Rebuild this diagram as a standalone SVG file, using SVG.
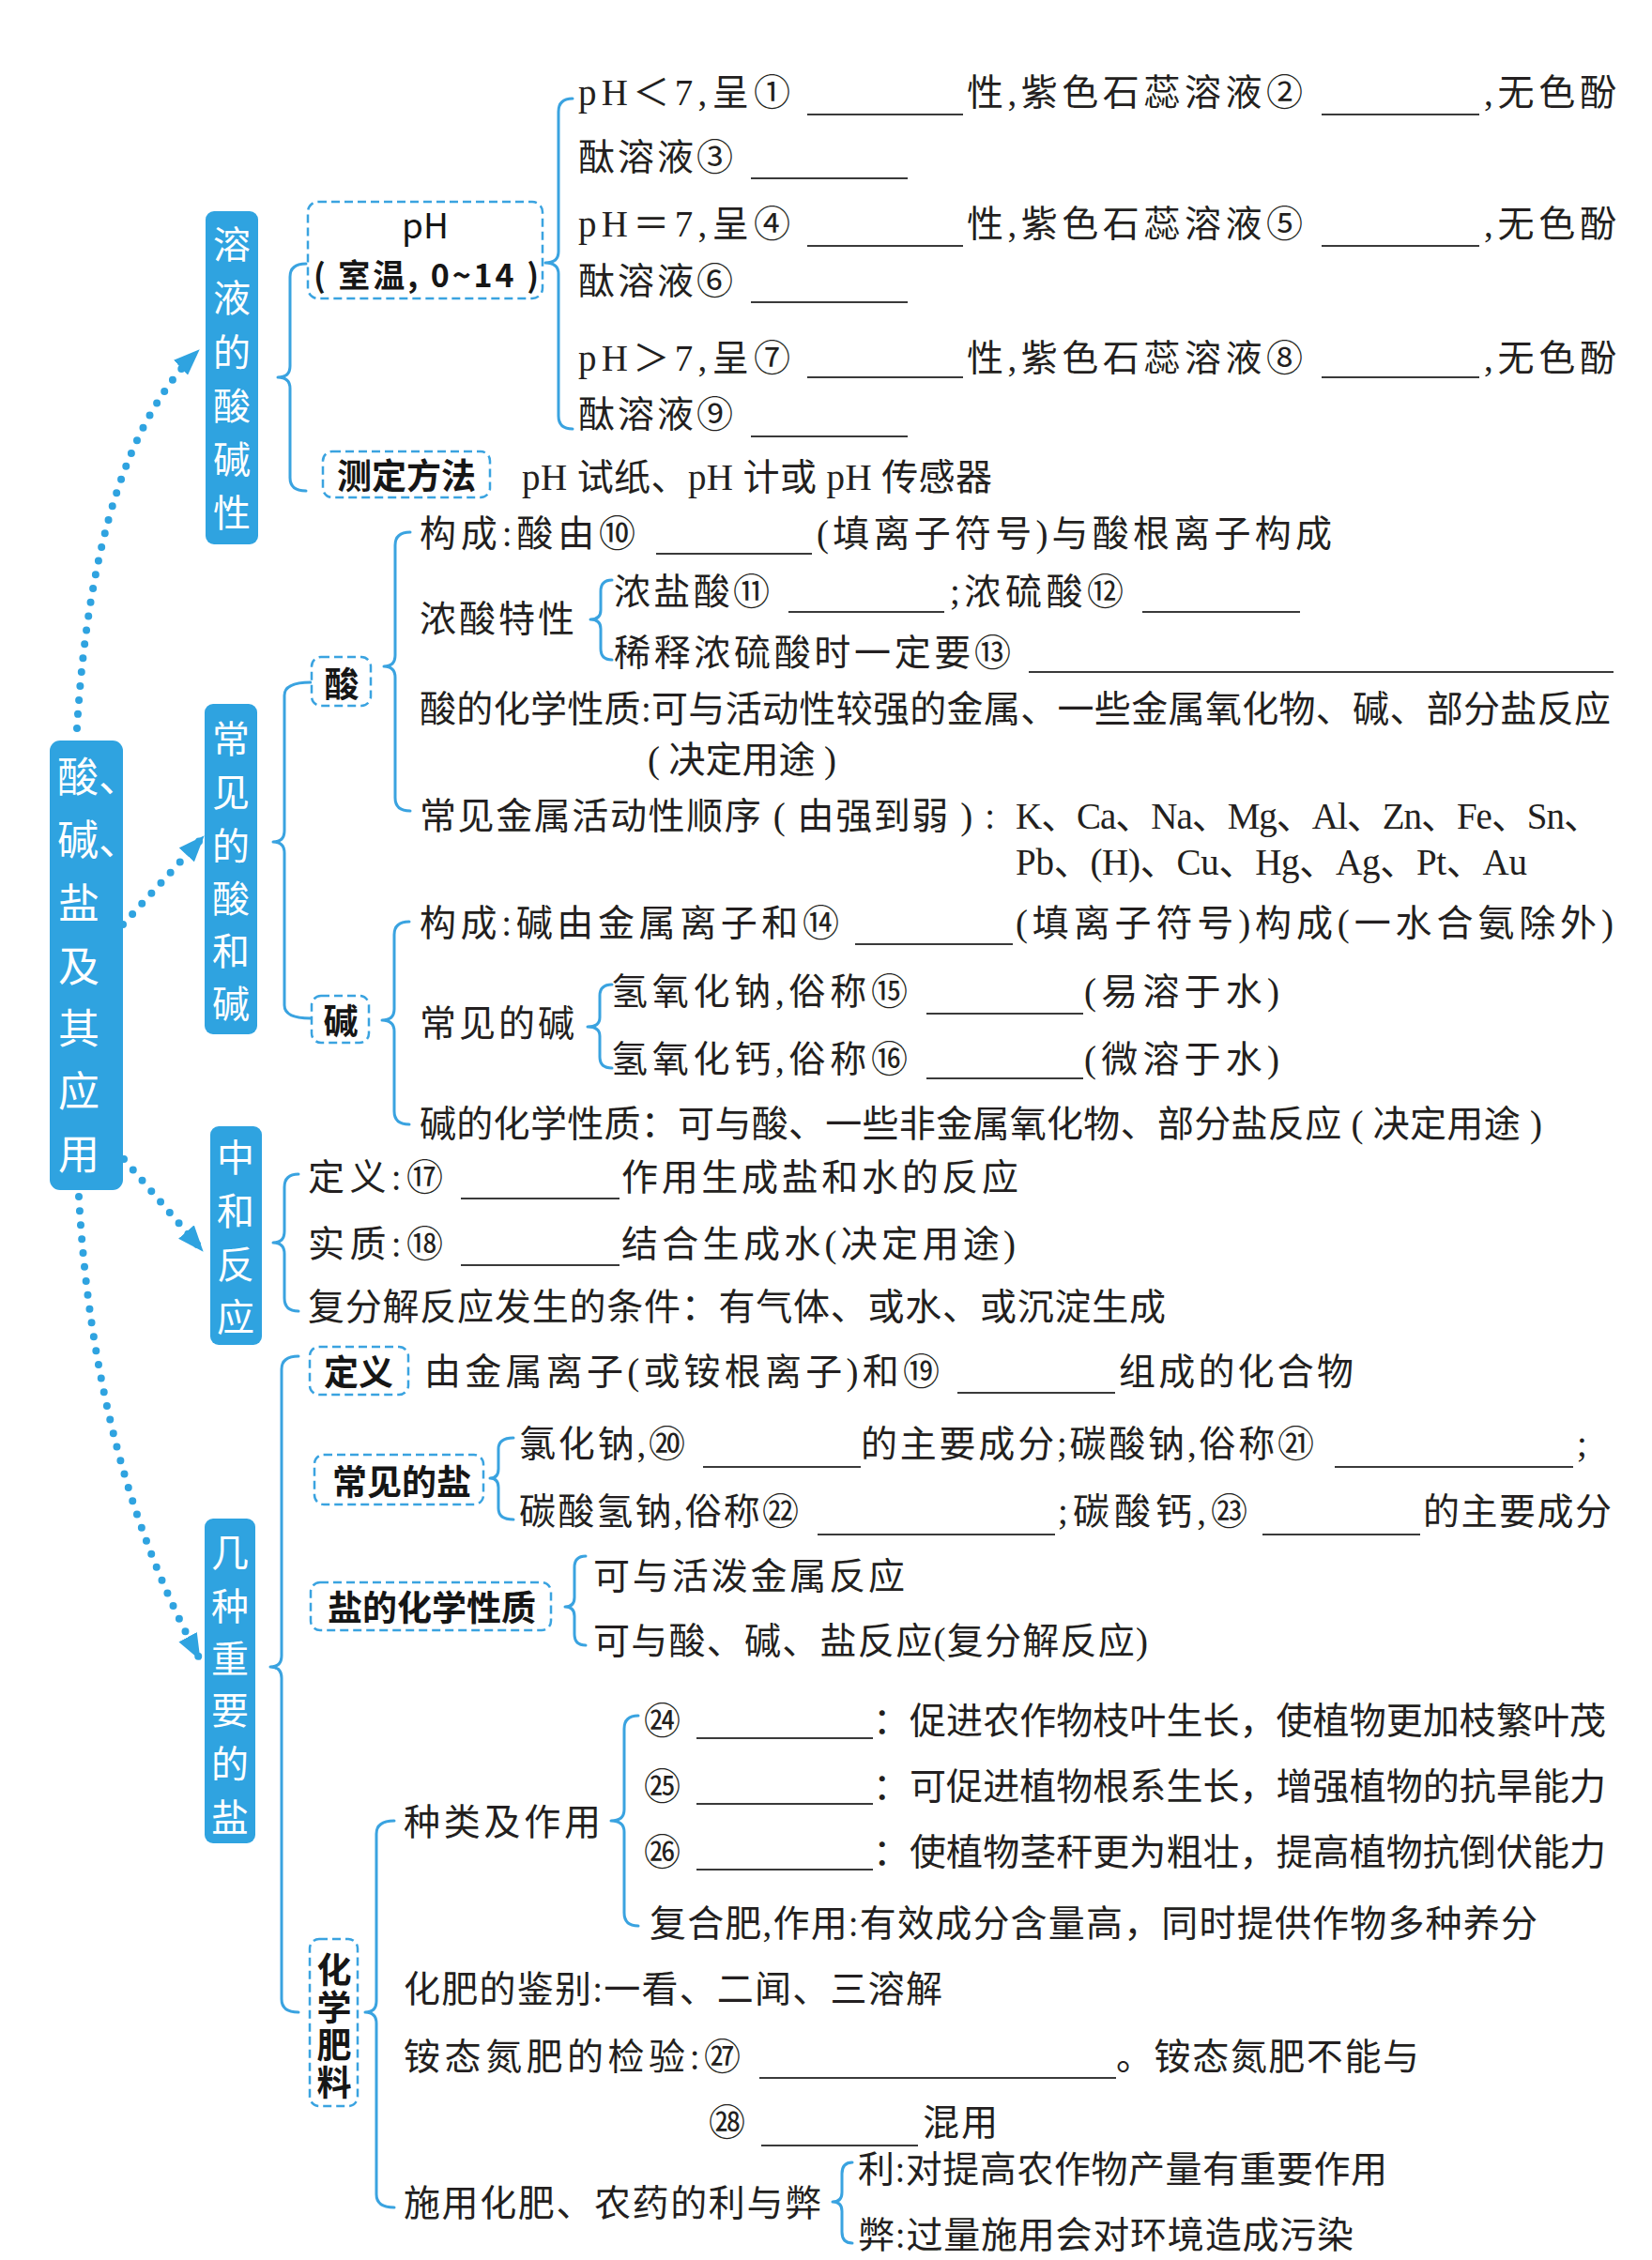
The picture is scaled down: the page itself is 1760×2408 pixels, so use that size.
<svg xmlns="http://www.w3.org/2000/svg" width="1760" height="2408" viewBox="0 0 1760 2408">
<style>
.t{font-family:"Liberation Serif","Noto Sans CJK SC",serif;font-size:39px;fill:#231f20}
.w{font-family:"Noto Sans CJK SC",sans-serif;font-size:40px;fill:#ffffff;text-anchor:middle}
.wm{font-family:"Noto Sans CJK SC",sans-serif;font-size:44px;fill:#ffffff}
.lb{font-family:"Noto Sans CJK SC",sans-serif;font-size:37px;font-weight:bold;fill:#161616;text-anchor:middle}
.ph{font-family:"Noto Sans CJK SC",sans-serif;font-size:34px;fill:#161616}
.fill{fill:#2fa3e0}
.box{fill:#ffffff;stroke:#3aa3e0;stroke-width:2.5;stroke-dasharray:9 5}
.br{fill:none;stroke:#3aa3e0;stroke-width:3;stroke-linejoin:round;stroke-linecap:round}
.bl{fill:none;stroke:#3a3a3a;stroke-width:1.8}
.dot{fill:none;stroke:#2fa3e0;stroke-width:8;stroke-linecap:round;stroke-dasharray:0 15}
</style>
<defs>
<marker id="ah" markerUnits="userSpaceOnUse" markerWidth="28" markerHeight="22" viewBox="0 0 28 22" refX="27" refY="11" orient="auto">
<path d="M0,0 L28,11 L0,22 Z" fill="#2fa3e0"/>
</marker>
</defs>
<rect width="1760" height="2408" fill="#ffffff"/>

<g id="connectors">
<path class="dot" d="M82,776 Q100,480 212,373" marker-end="url(#ah)"/>
<path class="dot" d="M131,985 L217,891" marker-end="url(#ah)"/>
<path class="dot" d="M132,1235 L216,1333" marker-end="url(#ah)"/>
<path class="dot" d="M84,1275 Q100,1560 213,1768" marker-end="url(#ah)"/>
<path class="br" d="M326,281 Q309,281 309,295 L309,390 Q309,402 296,402 Q309,402 309,414 L309,509 Q309,523 326,523"/>
<path class="br" d="M610,105 Q595,105 595,119 L595,268 Q595,280 581,280 Q595,280 595,292 L595,443 Q595,457 610,457"/>
<path class="br" d="M331,727 Q303,727 303,741 L303,885 Q303,897 291,897 Q303,897 303,909 L303,1071 Q303,1085 331,1085"/>
<path class="br" d="M437,567 Q421,567 421,581 L421,698 Q421,710 409,710 Q421,710 421,722 L421,850 Q421,864 437,864"/>
<path class="br" d="M652,618 Q640,618 640,630 L640,650 Q640,660 629,660 Q640,660 640,670 L640,691 Q640,703 652,703"/>
<path class="br" d="M436,982 Q420,982 420,996 L420,1075 Q420,1087 407,1087 Q420,1087 420,1099 L420,1184 Q420,1198 436,1198"/>
<path class="br" d="M652,1049 Q639,1049 639,1061 L639,1084 Q639,1094 626,1094 Q639,1094 639,1104 L639,1126 Q639,1138 652,1138"/>
<path class="br" d="M318,1251 Q303,1251 303,1265 L303,1312 Q303,1324 291,1324 Q303,1324 303,1336 L303,1383 Q303,1397 318,1397"/>
<path class="br" d="M318,1445 Q300,1445 300,1459 L300,1764 Q300,1776 288,1776 Q300,1776 300,1788 L300,2130 Q300,2144 318,2144"/>
<path class="br" d="M547,1532 Q531,1532 531,1544 L531,1565 Q531,1575 522,1575 Q531,1575 531,1585 L531,1607 Q531,1619 547,1619"/>
<path class="br" d="M624,1658 Q612,1658 612,1670 L612,1702 Q612,1712 602,1712 Q612,1712 612,1722 L612,1741 Q612,1753 624,1753"/>
<path class="br" d="M420,1940 Q401,1940 401,1954 L401,2132 Q401,2144 389,2144 Q401,2144 401,2156 L401,2338 Q401,2352 420,2352"/>
<path class="br" d="M680,1828 Q665,1828 665,1842 L665,1928 Q665,1940 651,1940 Q665,1940 665,1952 L665,2038 Q665,2052 680,2052"/>
<path class="br" d="M908,2304 Q897,2304 897,2316 L897,2336 Q897,2346 887,2346 Q897,2346 897,2356 L897,2378 Q897,2390 908,2390"/>
</g>

<g id="n-root">
<rect class="fill" x="53" y="789" width="78" height="479" rx="11"/>
<text class="wm"><tspan x="61" y="844">酸、</tspan><tspan x="61" y="911">碱、</tspan><tspan x="62" y="979">盐</tspan><tspan x="62" y="1046">及</tspan><tspan x="62" y="1112">其</tspan><tspan x="62" y="1179">应</tspan><tspan x="62" y="1246">用</tspan></text>
</g>

<g id="n-s1">
<rect class="fill" x="219" y="225" width="56" height="355" rx="9"/>
<text class="w"><tspan x="247" y="275">溶</tspan><tspan x="247" y="332">液</tspan><tspan x="247" y="390">的</tspan><tspan x="247" y="447">酸</tspan><tspan x="247" y="504">碱</tspan><tspan x="247" y="561">性</tspan></text>
</g>

<g id="n-ph">
<rect class="box" x="328" y="215" width="250" height="103" rx="11"/>
<text class="ph" x="453" y="254" text-anchor="middle" style="font-size:37px">pH</text>
<text class="ph" x="334" y="306" textLength="240" style="font-weight:bold">( 室温, 0~14 )</text>
</g>

<g id="n-ph-values">
<text class="t" x="616" y="112" textLength="226">pH＜7,呈①</text>
<text class="t" x="1030" y="112" textLength="358">性,紫色石蕊溶液②</text>
<text class="t" x="1581" y="112" textLength="141">,无色酚</text>
<text class="t" x="616" y="181" textLength="165">酞溶液③</text>
<text class="t" x="616" y="252" textLength="226">pH＝7,呈④</text>
<text class="t" x="1030" y="252" textLength="358">性,紫色石蕊溶液⑤</text>
<text class="t" x="1581" y="252" textLength="141">,无色酚</text>
<text class="t" x="616" y="313" textLength="165">酞溶液⑥</text>
<text class="t" x="616" y="395" textLength="226">pH＞7,呈⑦</text>
<text class="t" x="1030" y="395" textLength="358">性,紫色石蕊溶液⑧</text>
<text class="t" x="1581" y="395" textLength="141">,无色酚</text>
<text class="t" x="616" y="455" textLength="165">酞溶液⑨</text>
<path class="bl" d="M860,122H1026M1408,122H1576M800,190H967M860,262H1026M1408,262H1576M800,322H967M860,402H1026M1408,402H1576M800,465H967"/>
</g>

<g id="n-measure">
<rect class="box" x="344" y="481" width="178" height="49" rx="10"/>
<text class="lb" x="433" y="521">测定方法</text>
<text class="t" x="556" y="522" textLength="501">pH 试纸、pH 计或 pH 传感器</text>
</g>

<g id="n-s2">
<rect class="fill" x="218" y="750" width="56" height="352" rx="9"/>
<text class="w"><tspan x="246" y="802">常</tspan><tspan x="246" y="859">见</tspan><tspan x="246" y="916">的</tspan><tspan x="246" y="972">酸</tspan><tspan x="246" y="1028">和</tspan><tspan x="246" y="1084">碱</tspan></text>
</g>

<g id="n-acid">
<rect class="box" x="332" y="700" width="63" height="52" rx="10"/>
<text class="lb" x="364" y="743">酸</text>
<text class="t" x="447" y="582" textLength="230">构成:酸由⑩</text>
<text class="t" x="870" y="582" textLength="549">(填离子符号)与酸根离子构成</text>
<text class="t" x="447" y="673" textLength="165">浓酸特性</text>
<text class="t" x="654" y="644" textLength="166">浓盐酸⑪</text>
<text class="t" x="1012" y="644" textLength="185">;浓硫酸⑫</text>
<text class="t" x="654" y="709" textLength="423">稀释浓硫酸时一定要⑬</text>
<text class="t" x="447" y="769" textLength="1269">酸的化学性质:可与活动性较强的金属、一些金属氧化物、碱、部分盐反应</text>
<text class="t" x="690" y="823" textLength="201">( 决定用途 )</text>
<text class="t" x="447" y="883" textLength="613">常见金属活动性顺序 ( 由强到弱 ) :</text>
<text class="t" x="1082" y="883" textLength="623">K、Ca、Na、Mg、Al、Zn、Fe、Sn、</text>
<text class="t" x="1082" y="932" textLength="545">Pb、(H)、Cu、Hg、Ag、Pt、Au</text>
<path class="bl" d="M699,590H865M840,652H1006M1217,652H1385M1096,716H1719"/>
</g>

<g id="n-base">
<rect class="box" x="332" y="1061" width="61" height="50" rx="10"/>
<text class="lb" x="363" y="1102">碱</text>
<text class="t" x="447" y="997" textLength="447">构成:碱由金属离子和⑭</text>
<text class="t" x="1082" y="997" textLength="637">(填离子符号)构成(一水合氨除外)</text>
<text class="t" x="447" y="1104" textLength="165">常见的碱</text>
<text class="t" x="651" y="1070" textLength="316">氢氧化钠,俗称⑮</text>
<text class="t" x="1155" y="1070" textLength="208">(易溶于水)</text>
<text class="t" x="651" y="1142" textLength="316">氢氧化钙,俗称⑯</text>
<text class="t" x="1155" y="1142" textLength="208">(微溶于水)</text>
<text class="t" x="447" y="1211" textLength="1196">碱的化学性质：可与酸、一些非金属氧化物、部分盐反应 ( 决定用途 )</text>
<path class="bl" d="M911,1006H1079M987,1080H1154M987,1149H1154"/>
</g>

<g id="n-s3">
<rect class="fill" x="224" y="1200" width="55" height="233" rx="9"/>
<text class="w"><tspan x="251" y="1248">中</tspan><tspan x="251" y="1305">和</tspan><tspan x="251" y="1362">反</tspan><tspan x="251" y="1418">应</tspan></text>
<text class="t" x="328" y="1268" textLength="144">定义:⑰</text>
<text class="t" x="662" y="1268" textLength="423">作用生成盐和水的反应</text>
<text class="t" x="328" y="1339" textLength="144">实质:⑱</text>
<text class="t" x="662" y="1339" textLength="420">结合生成水(决定用途)</text>
<text class="t" x="328" y="1406" textLength="914">复分解反应发生的条件：有气体、或水、或沉淀生成</text>
<path class="bl" d="M491,1277H660M491,1348H660"/>
</g>

<g id="n-s4">
<rect class="fill" x="218" y="1618" width="54" height="346" rx="9"/>
<text class="w"><tspan x="245" y="1669">几</tspan><tspan x="245" y="1726">种</tspan><tspan x="245" y="1782">重</tspan><tspan x="245" y="1837">要</tspan><tspan x="245" y="1894">的</tspan><tspan x="245" y="1951">盐</tspan></text>
</g>

<g id="n-salt-def">
<rect class="box" x="330" y="1435" width="105" height="51" rx="10"/>
<text class="lb" x="382" y="1476">定义</text>
<text class="t" x="452" y="1475" textLength="549">由金属离子(或铵根离子)和⑲</text>
<text class="t" x="1192" y="1475" textLength="250">组成的化合物</text>
<path class="bl" d="M1020,1484H1188"/>
</g>

<g id="n-salt-common">
<rect class="box" x="335" y="1550" width="180" height="53" rx="10"/>
<text class="lb" x="428" y="1593">常见的盐</text>
<text class="t" x="553" y="1552" textLength="177">氯化钠,⑳</text>
<text class="t" x="917" y="1552" textLength="483">的主要成分;碳酸钠,俗称㉑</text>
<text class="t" x="1680" y="1552">;</text>
<text class="t" x="553" y="1624" textLength="298">碳酸氢钠,俗称㉒</text>
<text class="t" x="1127" y="1624" textLength="202">;碳酸钙,㉓</text>
<text class="t" x="1516" y="1624" textLength="201">的主要成分</text>
<path class="bl" d="M749,1563H917M1422,1563H1676M871,1635H1124M1345,1635H1513"/>
</g>

<g id="n-salt-chem">
<rect class="box" x="331" y="1686" width="256" height="51" rx="10"/>
<text class="lb" x="460" y="1727">盐的化学性质</text>
<text class="t" x="632" y="1693" textLength="332">可与活泼金属反应</text>
<text class="t" x="632" y="1762" textLength="591">可与酸、碱、盐反应(复分解反应)</text>
</g>

<g id="n-fert">
<rect class="box" x="330" y="2066" width="51" height="178" rx="10"/>
<text class="lb" x="356" y="2080" style="writing-mode:vertical-rl;text-anchor:start;letter-spacing:3px">化学肥料</text>
<text class="t" x="430" y="1955" textLength="210">种类及作用</text>
<text class="t" x="686" y="1847">㉔</text>
<text class="t" x="930" y="1847" textLength="781">：促进农作物枝叶生长，使植物更加枝繁叶茂</text>
<text class="t" x="686" y="1917">㉕</text>
<text class="t" x="930" y="1917" textLength="781">：可促进植物根系生长，增强植物的抗旱能力</text>
<text class="t" x="686" y="1987">㉖</text>
<text class="t" x="930" y="1987" textLength="781">：使植物茎秆更为粗壮，提高植物抗倒伏能力</text>
<text class="t" x="692" y="2063" textLength="946">复合肥,作用:有效成分含量高，同时提供作物多种养分</text>
<text class="t" x="430" y="2133" textLength="574">化肥的鉴别:一看、二闻、三溶解</text>
<text class="t" x="430" y="2205" textLength="359">铵态氮肥的检验:㉗</text>
<text class="t" x="1189" y="2205" textLength="323">。铵态氮肥不能与</text>
<text class="t" x="755" y="2275">㉘</text>
<text class="t" x="983" y="2275" textLength="80">混用</text>
<text class="t" x="430" y="2361" textLength="445">施用化肥、农药的利与弊</text>
<text class="t" x="914" y="2325" textLength="564">利:对提高农作物产量有重要作用</text>
<text class="t" x="914" y="2395" textLength="528">弊:过量施用会对环境造成污染</text>
<path class="bl" d="M742,1852H930M742,1922H930M742,1992H930M809,2214H1189M811,2286H978"/>
</g>
</svg>
